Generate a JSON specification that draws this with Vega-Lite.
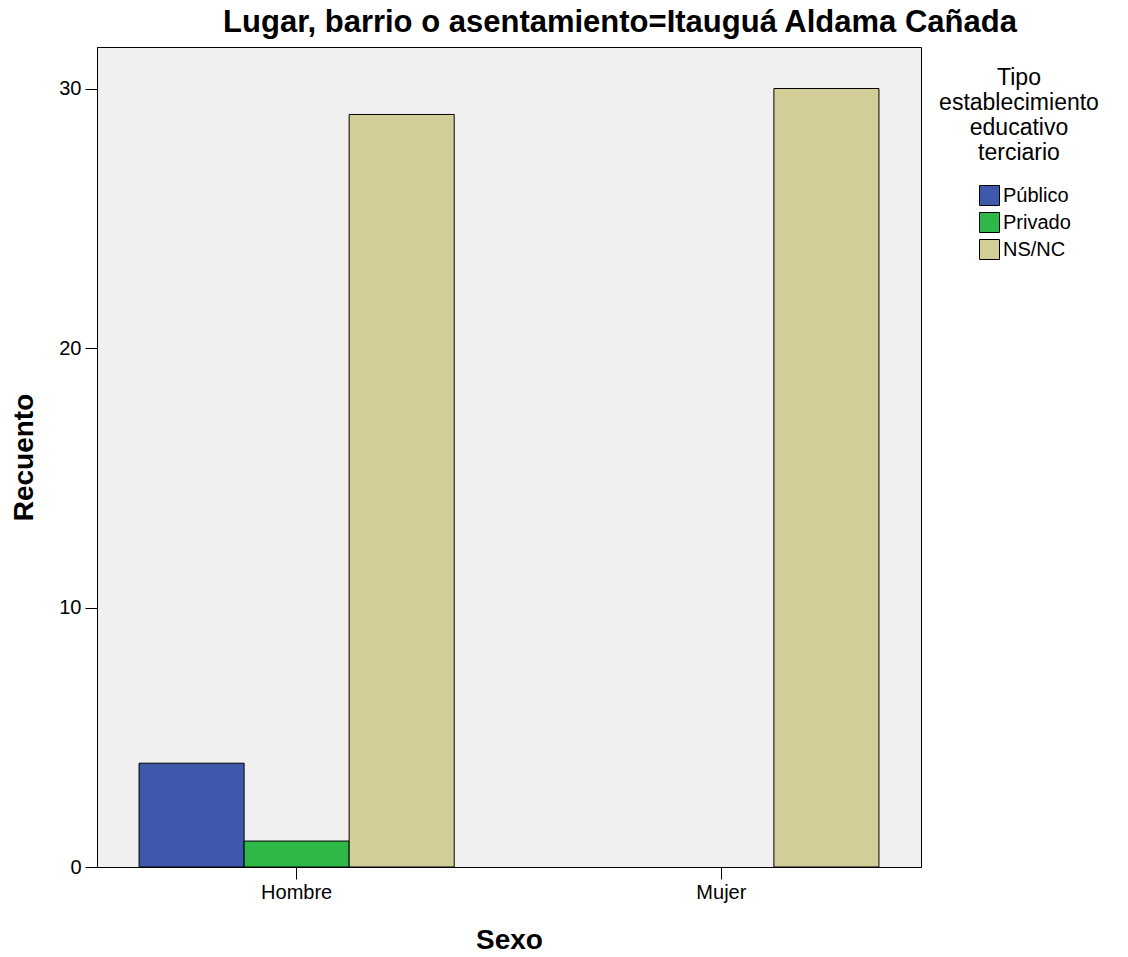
{
  "$schema": "https://vega.github.io/schema/vega-lite/v6.json",
  "autosize": "none",
  "width": 824,
  "height": 820,
  "padding": {"left": 97, "top": 47, "right": 207, "bottom": 90},
  "background": "white",
  "title": {
    "text": "Lugar, barrio o asentamiento=Itauguá Aldama Cañada",
    "font": "Liberation Sans",
    "fontSize": 31,
    "fontWeight": "bold",
    "color": "#000000",
    "anchor": "middle",
    "dx": 111,
    "offset": 8
  },
  "data": {
    "values": [
      {"sexo": "Hombre", "tipo": "Público", "recuento": 4},
      {"sexo": "Hombre", "tipo": "Privado", "recuento": 1},
      {"sexo": "Hombre", "tipo": "NS/NC", "recuento": 29},
      {"sexo": "Mujer", "tipo": "NS/NC", "recuento": 30}
    ]
  },
  "mark": {"type": "bar", "stroke": "#000000", "strokeWidth": 1},
  "encoding": {
    "x": {
      "field": "sexo",
      "type": "nominal",
      "title": "Sexo",
      "sort": ["Hombre", "Mujer"],
      "scale": {"domain": ["Hombre", "Mujer"], "paddingInner": 0.258, "paddingOuter": 0.099},
      "axis": {
        "labelAngle": 0,
        "tickSize": 12,
        "labelPadding": 3,
        "titlePadding": 24
      }
    },
    "xOffset": {
      "field": "tipo",
      "type": "nominal",
      "scale": {"domain": ["Público", "Privado", "NS/NC"], "paddingInner": 0, "paddingOuter": 0}
    },
    "y": {
      "field": "recuento",
      "type": "quantitative",
      "title": "Recuento",
      "scale": {"domain": [0, 31.6], "nice": false},
      "axis": {
        "values": [0, 10, 20, 30],
        "tickSize": 12,
        "labelPadding": 4,
        "grid": false,
        "titlePadding": 20
      }
    },
    "color": {
      "field": "tipo",
      "type": "nominal",
      "scale": {"domain": ["Público", "Privado", "NS/NC"], "range": ["#3E58AC", "#2EB848", "#D3CE97"]},
      "legend": {
        "title": ["Tipo", "establecimiento", "educativo", "terciario"],
        "orient": "none",
        "legendX": 842,
        "legendY": 20,
        "symbolType": "square",
        "symbolSize": 400,
        "symbolStrokeColor": "#000000",
        "symbolStrokeWidth": 1,
        "symbolOffset": 11,
        "labelOffset": 3,
        "rowPadding": 2,
        "titleAnchor": "middle",
        "titleAlign": "center",
        "titlePadding": 20
      }
    }
  },
  "config": {
    "view": {"fill": "#F0F0F0", "stroke": "#000000", "strokeWidth": 1},
    "axis": {
      "labelFont": "Liberation Sans",
      "labelFontSize": 20,
      "labelColor": "#000000",
      "titleFont": "Liberation Sans",
      "titleFontSize": 28,
      "titleFontWeight": "bold",
      "titleColor": "#000000",
      "domainColor": "#000000",
      "tickColor": "#000000",
      "domainWidth": 1,
      "tickWidth": 1
    },
    "legend": {
      "labelFont": "Liberation Sans",
      "labelFontSize": 20,
      "labelColor": "#000000",
      "titleFont": "Liberation Sans",
      "titleFontSize": 23,
      "titleFontWeight": "normal",
      "titleColor": "#000000",
      "titleLineHeight": 25,
      "titleLimit": 400
    }
  }
}
